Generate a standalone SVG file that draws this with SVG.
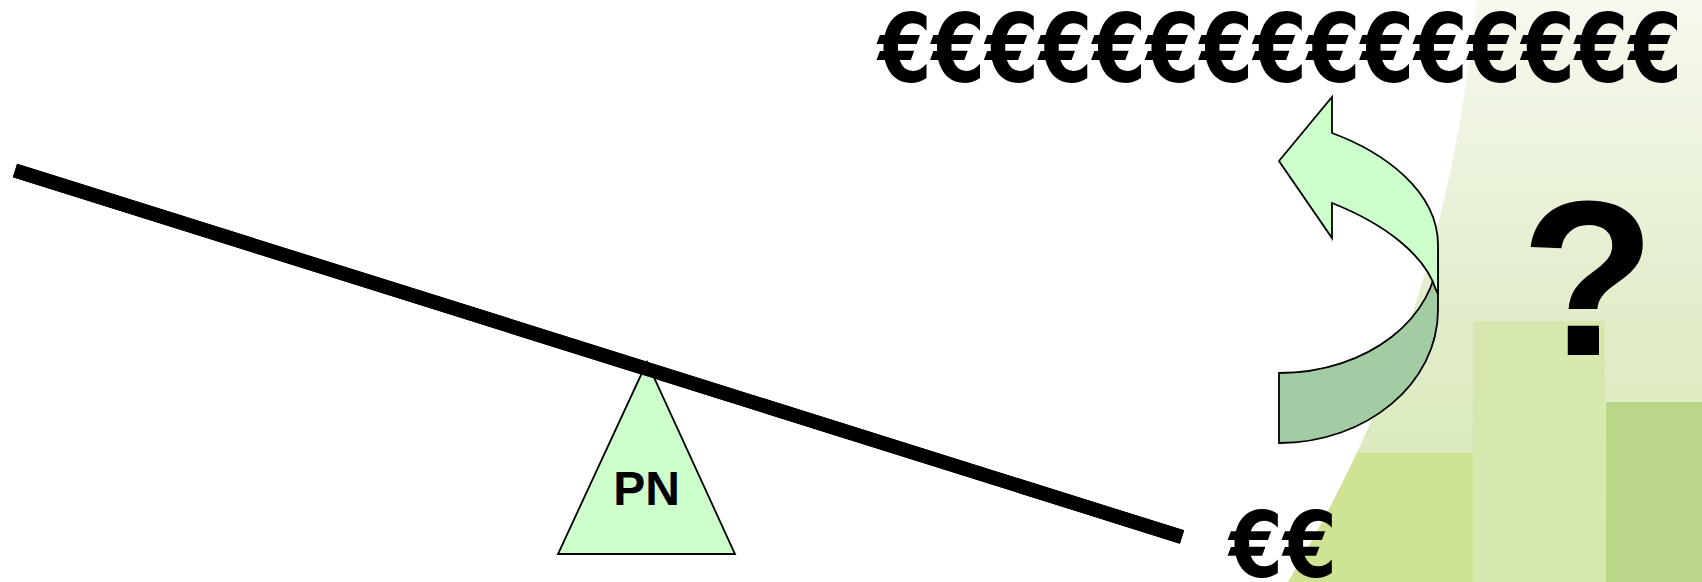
<svg xmlns="http://www.w3.org/2000/svg" width="1702" height="582" viewBox="0 0 1702 582">
<style>
.euro{font-family:"DejaVu Sans Condensed","DejaVu Sans",sans-serif;font-weight:bold;fill:#000}
.q{font-family:"Liberation Sans",Arial,sans-serif;font-weight:bold;fill:#000}
.lbl{font-family:"Liberation Sans",Arial,sans-serif;font-weight:bold;fill:#000;font-size:48px}
.edge{stroke:#000;stroke-width:1.8;stroke-linejoin:miter}
</style>
<defs>
<linearGradient id="bgG" x1="0" y1="0" x2="0" y2="1">
<stop offset="0" stop-color="#F6F9EF"/>
<stop offset="0.5" stop-color="#E3EECD"/>
<stop offset="1" stop-color="#D5E7B2"/>
</linearGradient>
<clipPath id="bgClip">
<path d="M1477,0 L1702,0 L1702,582 L1288,582 C1440,330 1462,120 1477,0 Z"/>
</clipPath>
</defs>
<rect width="1702" height="582" fill="#FFFFFF"/>
<g id="background" clip-path="url(#bgClip)">
<rect x="1200" y="0" width="502" height="582" fill="url(#bgG)"/>
<rect x="1200" y="453" width="273" height="129" fill="#CEE494"/>
<rect x="1473" y="321" width="132" height="261" fill="#D6E8AD"/>
<rect x="1606" y="402" width="96" height="180" fill="#B9D689"/>
</g>
<g id="connectors">
<line id="seesaw" x1="15" y1="170.5" x2="1182" y2="537" stroke="#000" stroke-width="14" stroke-linecap="butt"/>
</g>
<g id="fulcrum">
<path d="M647,362 L735,554 L558,554 Z" fill="#CCFFCC" class="edge"/>
<text x="646.5" y="505" text-anchor="middle" class="lbl">PN</text>
</g>
<line x1="15" y1="170.5" x2="1182" y2="537" stroke="#000" stroke-width="14"/>
<g id="curved-arrow">
<path d="M1279,373 C1367,373 1438,318 1438,250 L1438,310 C1438,383 1367,443 1279,443 Z" fill="#A3CCA3" class="edge"/>
<path d="M1279,161 L1332,97 L1332,133 C1382,151.5 1438,190 1438,245 L1438,294 L1436,290 C1425,255 1385,224 1332,203 L1332,238 Z" fill="#CCFFCC" class="edge"/>
</g>
<g id="many-euros">
<text x="878" y="82" class="euro" font-size="94" textLength="804" lengthAdjust="spacingAndGlyphs">€€€€€€€€€€€€€€€</text>
</g>
<g id="few-euros">
<text x="1229" y="577" class="euro" font-size="90" textLength="108" lengthAdjust="spacingAndGlyphs">€€</text>
</g>
<g id="question">
<text x="1588" y="355" text-anchor="middle" class="q" font-size="221">?</text>
</g>
</svg>
